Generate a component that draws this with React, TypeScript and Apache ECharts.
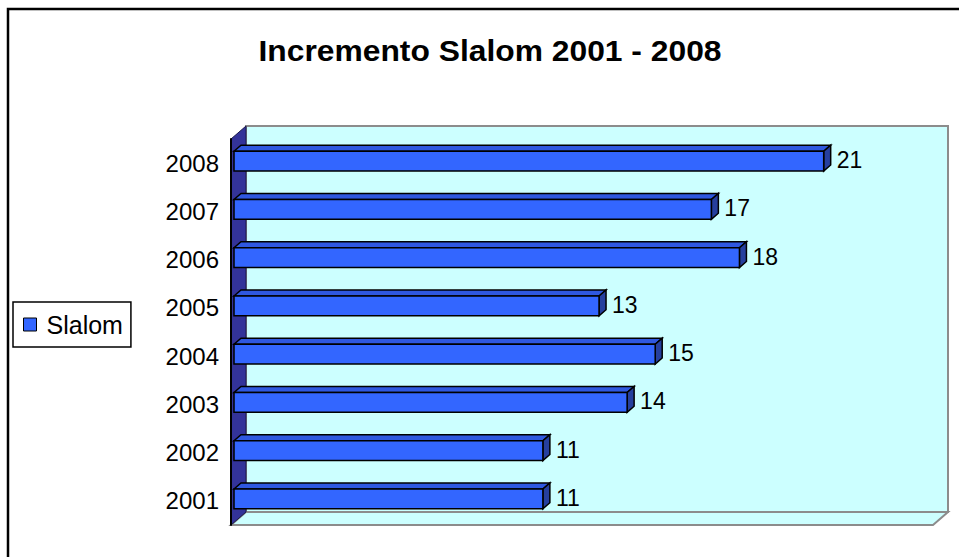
import React, { useEffect, useRef } from "react";
import * as echarts from "echarts";

const categories = ["2001", "2002", "2003", "2004", "2005", "2006", "2007", "2008"];
const slalomValues = [11, 11, 14, 15, 13, 18, 17, 21];
const valueMin = 0;
const valueMax = 25;
const seriesName = "Slalom";
const titleText = "Incremento Slalom 2001 - 2008";

const FONT = '"Liberation Sans", Arial, sans-serif';
const DEPTH_X = 15;
const DEPTH_Y = -13;

function wallsRender(params: any, api: any) {
  const cs = params.coordSys;
  const gx = cs.x, gy = cs.y, gw = cs.width, gh = cs.height;
  return {
    type: "group",
    children: [
      {
        type: "rect",
        shape: { x: gx + DEPTH_X, y: gy + DEPTH_Y, width: gw, height: gh },
        style: { fill: "#CCFFFF", stroke: "#8C8C8C", lineWidth: 2 },
      },
      {
        type: "polygon",
        shape: {
          points: [
            [gx, gy + gh],
            [gx + DEPTH_X, gy + gh + DEPTH_Y],
            [gx + gw + DEPTH_X, gy + gh + DEPTH_Y],
            [gx + gw, gy + gh],
          ],
        },
        style: { fill: "#CCFFFF", stroke: "#8C8C8C", lineWidth: 2 },
      },
      {
        type: "polygon",
        shape: {
          points: [
            [gx, gy],
            [gx + DEPTH_X, gy + DEPTH_Y],
            [gx + DEPTH_X, gy + gh + DEPTH_Y],
            [gx, gy + gh],
          ],
        },
        style: { fill: "#333399", stroke: "#1a1a4d", lineWidth: 1 },
      },
    ],
  };
}

function barRender(params: any, api: any) {
  const v = api.value(0);
  const i = api.value(1);
  const p0 = api.coord([0, i]);
  const p1 = api.coord([v, i]);
  const band = api.size([0, 1])[1];
  const h = band * 0.41;
  const x0 = p0[0] + 3;
  const x1 = p1[0] + 3;
  const cy = p0[1] - 2;
  const y0 = cy - h / 2;
  const y1 = cy + h / 2;
  const dx = 7;
  const dy = -6;
  const color = api.visual("color");
  return {
    type: "group",
    children: [
      {
        type: "polygon",
        shape: { points: [[x0, y0], [x0 + dx, y0 + dy], [x1 + dx, y0 + dy], [x1, y0]] },
        style: { fill: "#2F58E0", stroke: "#000", lineWidth: 1.5 },
      },
      {
        type: "polygon",
        shape: { points: [[x1, y0], [x1 + dx, y0 + dy], [x1 + dx, y1 + dy], [x1, y1]] },
        style: { fill: "#263F9E", stroke: "#000", lineWidth: 1.5 },
      },
      {
        type: "rect",
        shape: { x: x0, y: y0, width: x1 - x0, height: h },
        style: { fill: color, stroke: "#000", lineWidth: 1.5 },
      },
      {
        type: "text",
        x: x1 + dx + 6,
        y: cy - 1,
        style: {
          text: String(v),
          fill: "#000",
          fontSize: 23,
          fontFamily: FONT,
          align: "left",
          verticalAlign: "middle",
        },
      },
    ],
  };
}

export default function App() {
  const ref = useRef<HTMLDivElement>(null);
  useEffect(() => {
    if (!ref.current) return;
    const chart = echarts.init(ref.current, null, { renderer: "svg" });
    chart.setOption({
      animation: false,
      backgroundColor: "#fff",
      grid: { left: 231, top: 139, width: 702, height: 386 },
      xAxis: { type: "value", min: valueMin, max: valueMax, show: false },
      yAxis: {
        type: "category",
        data: categories,
        z: 10,
        axisLine: { lineStyle: { color: "#000", width: 2 } },
        axisTick: { length: 6, lineStyle: { color: "#000", width: 1.5 } },
        axisLabel: {
          color: "#000",
          fontSize: 24,
          fontFamily: FONT,
          margin: 12,
          padding: [5, 0, 0, 0],
        },
        splitLine: { show: false },
      },
      legend: {
        data: [seriesName],
        left: 13,
        top: 302,
        orient: "vertical",
        padding: [10, 8, 10, 10],
        backgroundColor: "#fff",
        borderColor: "#000",
        borderWidth: 1.5,
        borderRadius: 0,
        itemWidth: 13,
        itemHeight: 13,
        icon: "rect",
        itemStyle: { borderColor: "#000", borderWidth: 1 },
        textStyle: { color: "#000", fontSize: 25, fontFamily: FONT, padding: [0, 0, 0, 5] },
      },
      graphic: [
        {
          type: "rect",
          z: -10,
          shape: { x: 8, y: 9, width: 1000, height: 600 },
          style: { fill: "none", stroke: "#000", lineWidth: 2.5 },
        },
        {
          type: "text",
          x: 490,
          y: 51,
          scaleX: 1.06,
          style: {
            text: titleText,
            fill: "#000",
            fontSize: 30,
            fontWeight: "bold",
            fontFamily: FONT,
            align: "center",
            verticalAlign: "middle",
          },
        },
      ],
      series: [
        {
          type: "custom",
          name: "walls",
          silent: true,
          z: 1,
          renderItem: wallsRender,
          data: [[0, 0]],
          encode: { x: 0, y: 1 },
        },
        {
          type: "custom",
          name: seriesName,
          z: 3,
          itemStyle: { color: "#3366FF" },
          renderItem: barRender,
          data: slalomValues.map((v, i) => [v, i]),
          encode: { x: 0, y: 1 },
        },
      ],
    });
    return () => chart.dispose();
  }, []);
  return (
    <div
      ref={ref}
      style={{ position: "fixed", left: 0, top: 0, width: 959, height: 557 }}
    />
  );
}
